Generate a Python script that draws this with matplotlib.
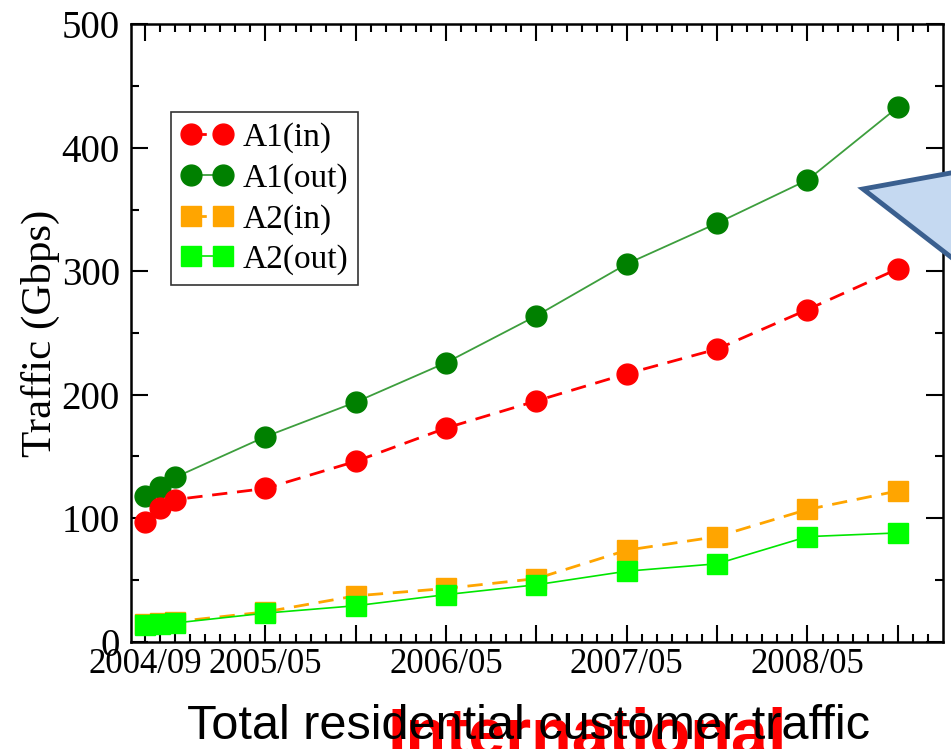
import numpy as np
import matplotlib.pyplot as plt
from matplotlib.patches import Polygon

# sample dates (year/month) and traffic in Gbps
dates = ['2004/09', '2004/10', '2004/11', '2005/05', '2005/11', '2006/05',
         '2006/11', '2007/05', '2007/11', '2008/05', '2008/11']
a1_in = [97, 108, 115, 124, 146, 173, 195, 217, 237, 269, 302]
a1_out = [118, 125, 133, 166, 194, 226, 264, 306, 339, 374, 433]
a2_in = [14, 15, 16, 24, 37, 43, 51, 74, 85, 107, 122]
a2_out = [13, 14, 15, 23, 29, 38, 46, 57, 63, 85, 88]

major_dates = ['2004/09', '2005/05', '2005/11', '2006/05', '2006/11',
               '2007/05', '2007/11', '2008/05', '2008/11']
labelled = ['2004/09', '2005/05', '2006/05', '2007/05', '2008/05']


def month_index(s):
    y, m = s.split('/')
    return (int(y) - 2004) * 12 + int(m) - 9


x = np.array([month_index(d) for d in dates])

plt.rcParams['font.family'] = ['Liberation Serif', 'DejaVu Serif']

fig = plt.figure(figsize=(9.51, 7.49), dpi=100)
ax = fig.add_axes([0.1377, 0.1435, 0.8539, 0.8238])

ax.plot(x, a1_out, '-', color='#3d9e3d', lw=1.3, marker='o', ms=15,
        mfc='#008000', mec='#008000', zorder=2, label='A1(out)')
ax.plot(x, a1_in, color='#ff0000', lw=2.0, ls=(0, (5.5, 3.5)), marker='o', ms=15,
        mfc='#ff0000', mec='#ff0000', zorder=3, label='A1(in)')
ax.plot(x, a2_in, color='#ffa500', lw=2.0, ls=(0, (5.5, 3.5)), marker='s', ms=14,
        mfc='#ffa500', mec='#ffa500', zorder=2, label='A2(in)')
ax.plot(x, a2_out, '-', color='#00e600', lw=1.2, marker='s', ms=14,
        mfc='#00ff00', mec='#00ff00', zorder=3, label='A2(out)')

ax.set_xlim(-0.93, 53.0)
ax.set_ylim(0, 500)

ax.set_xticks([month_index(d) for d in major_dates])
ax.set_xticklabels([d if d in labelled else '' for d in major_dates])
ax.set_xticks(np.arange(1, 53), minor=True)
ax.set_yticks([0, 100, 200, 300, 400, 500])
ax.set_yticks(np.arange(50, 500, 100), minor=True)

ax.tick_params(which='both', direction='in', top=True, right=True, width=1.5)
ax.tick_params(which='major', length=12)
ax.tick_params(which='minor', length=6)
ax.tick_params(axis='x', labelsize=25, pad=5)
ax.tick_params(axis='y', labelsize=28, pad=8)
for sp in ax.spines.values():
    sp.set_linewidth(1.8)

ax.set_ylabel('Traffic (Gbps)', fontsize=31, labelpad=1)

h, l = ax.get_legend_handles_labels()
order = [1, 0, 2, 3]
leg = ax.legend([h[i] for i in order], [l[i] for i in order], loc='upper left',
                bbox_to_anchor=(0.049, 0.858), numpoints=2, fontsize=24,
                frameon=True, fancybox=False, edgecolor='black', borderpad=0.3,
                labelspacing=0.3, handlelength=1.56, handletextpad=0.3,
                borderaxespad=0)
leg.get_frame().set_linewidth(1.2)

# speech-bubble callout on the right, cut by the figure edge
W, H = 951, 749
pts = [(863, 189), (1000, 164), (1000, 295)]
fig.patches.append(Polygon([(px / W, 1 - py / H) for px, py in pts], closed=True,
                           transform=fig.transFigure, facecolor='#c5d9f1',
                           edgecolor='#3a5f8f', lw=3.5, zorder=5))

fig.text(187 / W, 1 - 739 / H, 'Total residential customer traffic',
         family='Liberation Sans', fontsize=35, color='black', zorder=7)
fig.text(387 / W, 1 - 754 / H, 'International', family='Liberation Sans',
         fontweight='bold', fontsize=48, color='#ff0000', zorder=6)

fig.savefig('out.png', dpi=100)
